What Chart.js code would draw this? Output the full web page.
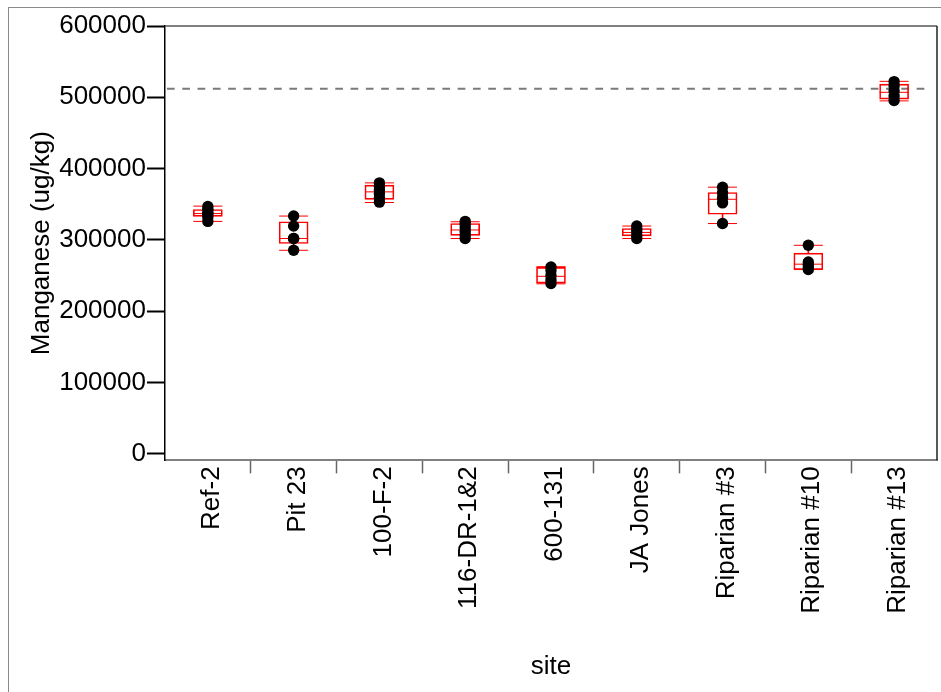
<!DOCTYPE html>
<html>
<head>
<meta charset="utf-8">
<title>Manganese by site</title>
<script src="https://cdn.jsdelivr.net/npm/chart.js@4.4.1/dist/chart.umd.min.js"></script>
<style>
  html, body { margin: 0; padding: 0; background: #fff; }
  #wrap { position: relative; width: 941px; height: 692px; overflow: hidden; }
  #frame { position: absolute; left: 8px; top: 7px; width: 1000px; height: 1000px;
           border-left: 1px solid #8a8a8a; border-top: 1px solid #8a8a8a; pointer-events: none; }
  canvas { position: absolute; left: 0; top: 0; }
</style>
</head>
<body>
<div id="wrap">
  <canvas id="chart" width="941" height="692"></canvas>
  <div id="frame"></div>
</div>
<script>
// Sites along the x axis
const sites = ['Ref-2', 'Pit 23', '100-F-2', '116-DR-1&2', '600-131', 'JA Jones', 'Riparian #3', 'Riparian #10', 'Riparian #13'];

// Individual measurements per site (ug/kg)
const ref2Values     = [347000, 343000, 339000, 336000, 332000, 326000];
const pit23Values    = [333500, 319500, 302000, 302000, 285500];
const f100Values     = [380000, 375000, 370000, 365000, 359000, 353000];
const dr116Values    = [326000, 322000, 317000, 312000, 307000, 302000];
const s600Values     = [262000, 257000, 250000, 244000, 239000];
const jaJonesValues  = [319500, 315000, 311000, 306000, 302000];
const rip3Values     = [374000, 366000, 359000, 352000, 323000];
const rip10Values    = [292500, 269000, 265500, 262000, 258500];
const rip13Values    = [522000, 516000, 509000, 502000, 495500];

// Box plot summary per site
const whiskerLow  = [326000, 285500, 352500, 302000, 238500, 302000, 323000, 258500, 495000];
const quartile1   = [333000, 295000, 356800, 306500, 239500, 305700, 336000, 258500, 497500];
const medians     = [337000, 302000, 367400, 314000, 249000, 310500, 357000, 266000, 507000];
const quartile3   = [342700, 325500, 376800, 323000, 261500, 316000, 366500, 281500, 518600];
const whiskerHigh = [347400, 333500, 380000, 325500, 262500, 319500, 374000, 292500, 522400];

// Reference level (dashed line) and y ticks
const referenceLevel = 512000;
const yTicks = [0, 100000, 200000, 300000, 400000, 500000, 600000];

const siteValues = [ref2Values, pit23Values, f100Values, dr116Values, s600Values,
                    jaJonesValues, rip3Values, rip10Values, rip13Values];
const dotData = [];
siteValues.forEach((vals, i) => vals.forEach(v => dotData.push({ x: sites[i], y: v })));

const RED = 'rgb(255,0,0)';
const FONT = "'Liberation Sans', Arial, Helvetica, sans-serif";

const referencePlugin = {
  id: 'referenceLine',
  beforeDatasetsDraw(chart) {
    const { ctx, chartArea, scales } = chart;
    const y = scales.y.getPixelForValue(referenceLevel);
    ctx.save();
    ctx.strokeStyle = '#7a7a7a';
    ctx.lineWidth = 2;
    ctx.setLineDash([7.7, 7.6]);
    ctx.beginPath();
    ctx.moveTo(chartArea.left + 2, y);
    ctx.lineTo(chartArea.right - 7, y);
    ctx.stroke();
    ctx.restore();
  }
};

const framePlugin = {
  id: 'plotFrame',
  afterDraw(chart) {
    const { ctx, chartArea } = chart;
    ctx.save();
    ctx.lineWidth = 1.5;
    ctx.strokeStyle = '#555';
    ctx.beginPath();
    ctx.moveTo(chartArea.left, chartArea.top);
    ctx.lineTo(chartArea.right, chartArea.top);
    ctx.stroke();
    ctx.strokeStyle = '#222';
    ctx.beginPath();
    ctx.moveTo(chartArea.right, chartArea.top);
    ctx.lineTo(chartArea.right, chartArea.bottom);
    ctx.stroke();
    ctx.restore();
  }
};

new Chart(document.getElementById('chart'), {
  type: 'bar',
  data: {
    labels: sites,
    datasets: [
      {
        type: 'line',
        label: 'Manganese',
        data: dotData,
        showLine: false,
        pointRadius: 5.7,
        pointBorderWidth: 0,
        pointBackgroundColor: '#000',
        pointBorderColor: '#000',
        order: 0
      },
      {
        type: 'line',
        label: 'Median',
        data: medians,
        showLine: false,
        pointStyle: 'line',
        pointRadius: 14.5,
        pointBorderWidth: 1,
        pointBorderColor: RED,
        order: 1
      },
      {
        type: 'line',
        label: 'Upper whisker',
        data: whiskerHigh,
        showLine: false,
        pointStyle: 'line',
        pointRadius: 14.5,
        pointBorderWidth: 1,
        pointBorderColor: RED,
        order: 1
      },
      {
        type: 'line',
        label: 'Lower whisker',
        data: whiskerLow,
        showLine: false,
        pointStyle: 'line',
        pointRadius: 14.5,
        pointBorderWidth: 1,
        pointBorderColor: RED,
        order: 1
      },
      {
        label: 'Box',
        data: sites.map((_, i) => [quartile1[i], quartile3[i]]),
        backgroundColor: 'rgba(0,0,0,0)',
        borderColor: RED,
        borderWidth: 1,
        borderSkipped: false,
        barThickness: 29,
        grouped: false,
        order: 2
      },
      {
        label: 'Upper stem',
        data: sites.map((_, i) => [quartile3[i], whiskerHigh[i]]),
        backgroundColor: RED,
        borderWidth: 0,
        barThickness: 1,
        grouped: false,
        order: 3
      },
      {
        label: 'Lower stem',
        data: sites.map((_, i) => [whiskerLow[i], quartile1[i]]),
        backgroundColor: RED,
        borderWidth: 0,
        barThickness: 1,
        grouped: false,
        order: 3
      }
    ]
  },
  options: {
    responsive: false,
    animation: false,
    events: [],
    layout: { autoPadding: false, padding: { left: 10, right: 4, top: 26, bottom: 2 } },
    plugins: { legend: { display: false }, tooltip: { enabled: false } },
    scales: {
      x: {
        type: 'category',
        offset: true,
        afterFit: (scale) => { scale.paddingLeft = 0; scale.paddingRight = 0; },
        grid: {
          offset: true,
          drawOnChartArea: false,
          drawTicks: true,
          tickLength: 13,
          tickWidth: 1.5,
          tickColor: (c) => (c.type !== 'tick' || c.index === 0) ? 'rgba(0,0,0,0)' : '#666'
        },
        border: { display: true, color: '#808080', width: 2 },
        ticks: {
          color: '#000',
          font: { family: FONT, size: 26 },
          minRotation: 90,
          maxRotation: 90,
          autoSkip: false,
          padding: -7,
          labelOffset: 4
        },
        title: {
          display: true,
          text: 'site',
          color: '#000',
          font: { family: FONT, size: 26 },
          padding: { top: 44, bottom: 8 }
        }
      },
      y: {
        type: 'linear',
        min: -9100,
        max: 600000,
        afterBuildTicks: (scale) => { scale.ticks = yTicks.map(v => ({ value: v })); },
        grid: {
          drawOnChartArea: false,
          drawTicks: true,
          tickLength: 18,
          tickWidth: 2,
          tickColor: '#000'
        },
        border: { display: true, color: '#000', width: 1.5 },
        ticks: {
          color: '#000',
          font: { family: FONT, size: 26 },
          padding: 1,
          callback: (v) => String(v)
        },
        title: {
          display: true,
          text: 'Manganese (ug/kg)',
          color: '#000',
          font: { family: FONT, size: 26 },
          padding: { top: 16, bottom: 1 }
        }
      }
    }
  },
  plugins: [referencePlugin, framePlugin]
});
</script>
</body>
</html>
